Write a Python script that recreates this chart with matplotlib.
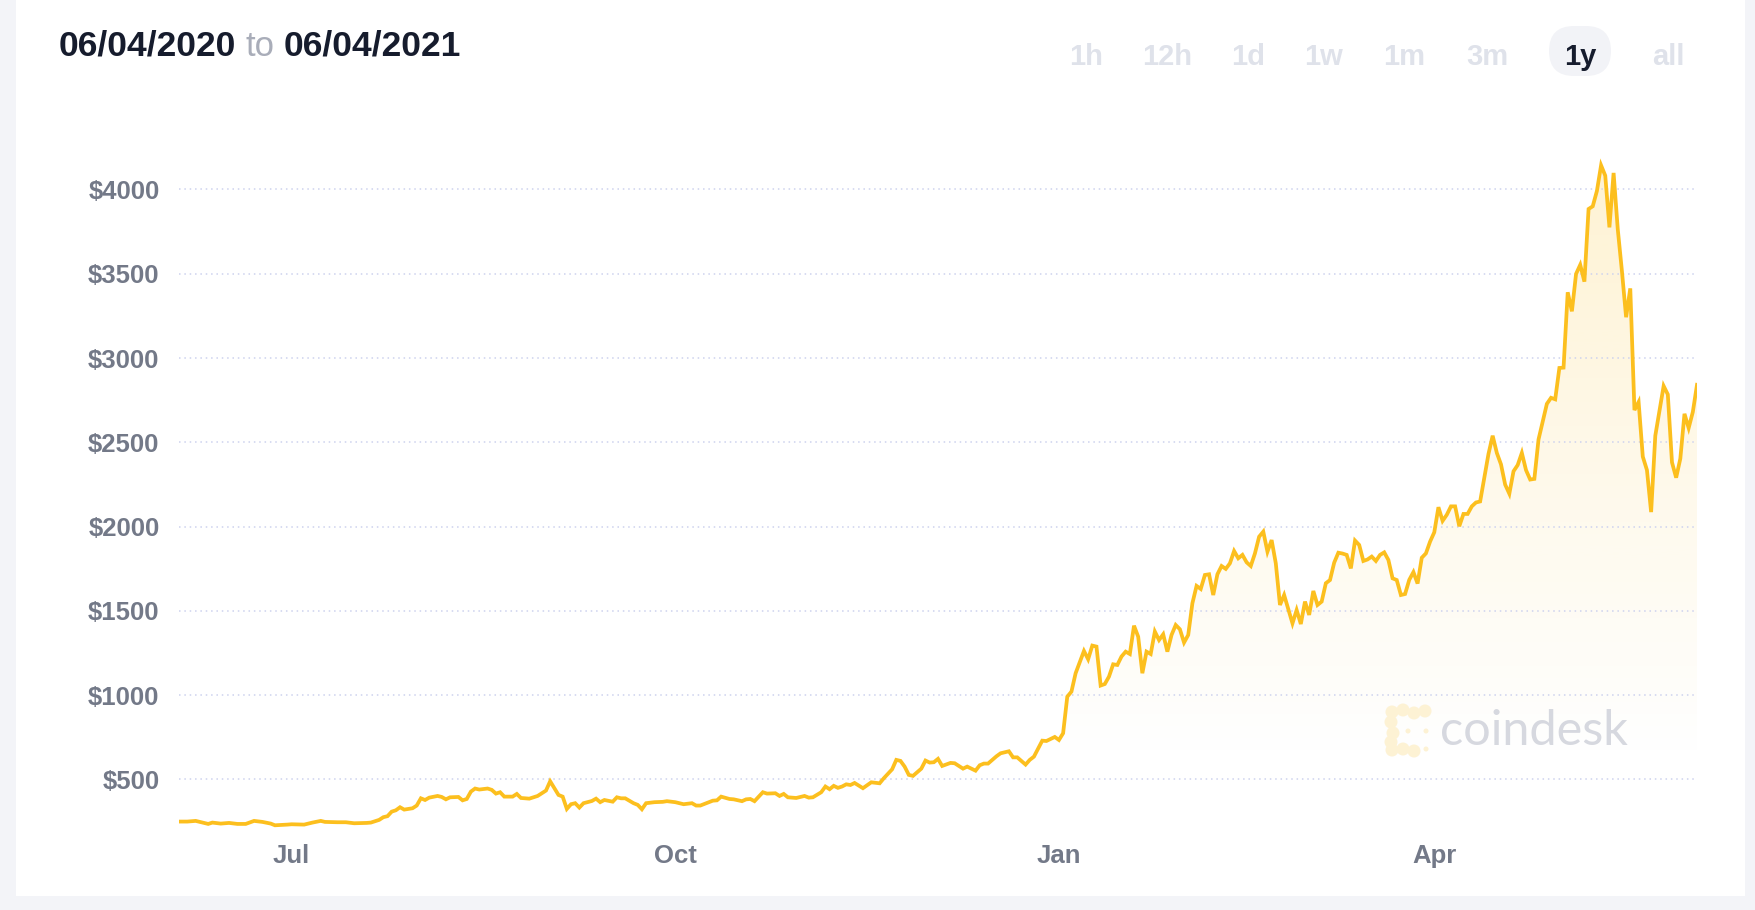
import matplotlib
matplotlib.use('Agg')
import matplotlib.pyplot as plt
import matplotlib.dates as mdates
from matplotlib.patches import Rectangle, FancyBboxPatch, Circle
from matplotlib.transforms import IdentityTransform
from matplotlib.ticker import FuncFormatter
import numpy as np
import pandas as pd

# ETH price (days after the start date, USD)
start_date = '2020-06-04'
day_offset = [
    0, 2, 4, 7, 8, 10, 12, 14, 16, 18, 20, 22, 23, 26, 27, 30, 31, 32, 34, 35,
    38, 40, 42, 45, 46, 48, 49, 50, 51, 52, 53, 54, 56, 57, 58, 59, 60, 62, 63, 64,
    65, 67, 68, 69, 70, 71, 72, 74,
    75, 76, 77, 78, 80, 81, 82, 84, 86, 88, 89, 91, 92, 93, 94, 95, 96, 97, 99, 100,
    101, 102, 104, 105, 106, 107, 109, 110, 111, 112, 114, 116, 117, 119, 121, 123, 124, 125, 128, 129,
    130, 132, 133, 135, 136, 137, 138, 140, 141, 143, 144, 145, 146, 148, 150, 151, 152, 154,
    155, 156, 157, 158, 159, 160, 161, 162, 164, 166, 168, 169, 171, 172, 173, 174, 175, 176, 178, 179,
    180, 181, 182, 183, 185, 186, 188, 189, 191, 192, 193, 194, 196, 197, 199, 200, 201, 203, 204, 205,
    207, 208, 210, 211, 212, 213, 214, 215, 217, 218, 219, 220, 221, 222,
    223, 224, 225, 226, 227, 228, 229, 230, 231, 232, 233, 234, 235, 236, 237, 238, 239, 240, 241, 242,
    243, 244, 245, 246, 247, 248, 249, 250, 251, 252, 253, 254, 255, 256, 257, 258, 259, 260, 261, 262,
    263, 264, 265, 266, 267, 268, 269, 270, 271, 272, 273, 274, 275, 276, 277, 278, 279, 280, 281, 282,
    283, 284, 285, 286, 287, 288, 289, 290, 291, 292, 293,
    294, 295, 296, 297, 298, 299, 300, 301, 302, 303, 304, 305, 306, 307, 308, 309, 310, 311, 312, 313,
    314, 315, 316, 317, 318, 319, 320, 321, 322, 323, 324, 325, 326, 327, 328, 329, 330, 331, 332, 333,
    334, 335, 336, 337, 338, 339, 340, 341, 342, 343, 344, 345, 346, 347, 348, 349, 350, 351, 352, 353,
    354, 355, 356, 357, 358, 359, 360, 361, 362, 363, 364,
]
price_usd = [
    250, 250, 254, 236, 244, 238, 242, 236, 236, 254, 248, 238, 228, 232, 234, 232, 238, 244, 254, 248,
    246, 246, 240, 242, 244, 260, 276, 282, 309, 317, 335, 321, 329, 345, 388, 378, 392, 402, 396, 382,
    394, 396, 376, 384, 428, 446, 440, 446,
    438, 416, 424, 398, 398, 414, 390, 386, 402, 434, 489, 408, 398, 325, 353, 359, 333, 359, 372, 386,
    365, 378, 368, 394, 388, 388, 359, 349, 323, 359, 365, 367, 371, 365, 353, 359, 345, 345, 374, 376,
    398, 384, 382, 371, 382, 384, 371, 424, 416, 418, 402, 414, 394, 390, 402, 392, 394, 424,
    458, 442, 462, 450, 458, 471, 467, 479, 448, 483, 477, 507, 560, 616, 610, 576, 527, 521, 564, 612,
    600, 602, 622, 580, 598, 596, 564, 576, 552, 584, 594, 594, 637, 655, 667, 631, 631, 588, 616, 635,
    730, 728, 752, 734, 774, 991, 1021, 1130, 1262, 1213, 1294, 1288, 1057, 1066,
    1110, 1183, 1179, 1229, 1258, 1244, 1412, 1347, 1130, 1258, 1244, 1377, 1327, 1361, 1258, 1357, 1416, 1391, 1312, 1357,
    1545, 1648, 1630, 1713, 1717, 1594, 1717, 1766, 1749, 1782, 1855, 1812, 1832, 1788, 1766, 1841, 1940, 1970, 1851, 1920,
    1782, 1535, 1594, 1511, 1426, 1505, 1422, 1555, 1476, 1618, 1535, 1555, 1664, 1683, 1786, 1845, 1840, 1832, 1752, 1917,
    1891, 1796, 1805, 1822, 1796, 1832, 1847, 1802, 1693, 1683, 1594,
    1600, 1684, 1730, 1662, 1815, 1841, 1911, 1966, 2115, 2034, 2070, 2120, 2120, 2002, 2075, 2075, 2120, 2143, 2149, 2290,
    2431, 2539, 2437, 2369, 2249, 2195, 2328, 2365, 2437, 2335, 2279, 2283, 2517, 2623, 2728, 2764, 2755, 2941, 2943, 3390,
    3277, 3499, 3553, 3453, 3884, 3900, 3991, 4143, 4082, 3775, 4098, 3764, 3515, 3242, 3413, 2691, 2739, 2415, 2335, 2086,
    2539, 2687, 2834, 2784, 2381, 2290, 2403, 2669, 2585, 2680, 2841,
]
y_ticks = [500, 1000, 1500, 2000, 2500, 3000, 3500, 4000]
range_buttons = ['1h', '12h', '1d', '1w', '1m', '3m', '1y', 'all']
active_button = '1y'
date_from, date_to = '06/04/2020', '06/04/2021'

W, H = 1756, 910
LINE = '#fcbf1e'
TICK_GRAY = '#737988'
DARK = '#161c2d'
FONT = ['Liberation Sans', 'DejaVu Sans']

dates = pd.Timestamp(start_date) + pd.to_timedelta(day_offset, unit='D')
x = mdates.date2num(dates)
y = np.array(price_usd, dtype=float)

fig = plt.figure(figsize=(W / 100, H / 100), dpi=100, facecolor='#f3f4f8')
# white card
fig.add_artist(Rectangle((16 / W, 14 / H), (1745 - 16) / W, 1 - 14 / H,
                         transform=fig.transFigure, facecolor='white',
                         edgecolor='none', zorder=0))

ax = fig.add_axes([179 / W, 1 - 830 / H, (1697 - 179) / W, (830 - 150) / H])
ax.set_facecolor('none')
y_lo, y_hi = 200, 4234

# gradient fill under the line
poly = ax.fill_between(x, y, y_lo - 50, facecolor='none', edgecolor='none')
vals = np.linspace(y_lo, y_hi, 300)
grad = np.zeros((300, 1, 4))
grad[..., :3] = matplotlib.colors.to_rgb(LINE)
grad[:, 0, 3] = np.clip((vals - 600) * 5.5e-5, 0, None)
im = ax.imshow(grad, extent=[x[0], x[-1], y_lo, y_hi], origin='lower',
               aspect='auto', zorder=1, interpolation='bilinear')
im.set_clip_path(poly.get_paths()[0], transform=ax.transData)

ax.plot(x, y, color=LINE, lw=2.7, zorder=3, solid_joinstyle='miter')

ax.set_xlim(x[0], x[-1])
ax.set_ylim(y_lo, y_hi)
ax.set_yticks(y_ticks)
ax.yaxis.set_major_formatter(FuncFormatter(lambda v, p: f'${int(v)}'))
ax.xaxis.set_major_locator(mdates.MonthLocator(bymonth=[1, 4, 7, 10]))
ax.xaxis.set_major_formatter(mdates.DateFormatter('%b'))
ax.yaxis.grid(True, color='#cdd2ee', linestyle=(0, (1, 2.5)), lw=1.1, zorder=0)
ax.xaxis.grid(False)
ax.tick_params(axis='y', length=0, pad=14)
ax.tick_params(axis='x', length=0, pad=10)
for lab in ax.get_xticklabels() + ax.get_yticklabels():
    lab.set_fontfamily(FONT)
    lab.set_fontsize(18.5)
    lab.set_fontweight('bold')
    lab.set_color(TICK_GRAY)
for s in ax.spines.values():
    s.set_visible(False)

# header: date range
base = 1 - 56 / H
fig.text(59 / W, base, date_from, fontsize=25.5, fontweight='bold', family=FONT,
         color=DARK, va='baseline')
fig.text(246 / W, base, 'to', fontsize=25, family=FONT, color='#a9adb9', va='baseline')
fig.text(284 / W, base, date_to, fontsize=25.5, fontweight='bold', family=FONT,
         color=DARK, va='baseline')

# range buttons
btn_x = [1086, 1167, 1248, 1324, 1404, 1487, 1580, 1668]
fig.add_artist(FancyBboxPatch((1549, H - 76), 62, 50,
                              boxstyle='round,pad=0,rounding_size=25',
                              transform=IdentityTransform(),
                              facecolor='#f2f3f7', edgecolor='none', zorder=1))
for bx, lab in zip(btn_x, range_buttons):
    fig.text(bx / W, 1 - 65 / H, lab, fontsize=21, fontweight='bold', family=FONT,
             color=DARK if lab == active_button else '#dfe2ea',
             ha='center', va='baseline', zorder=2)

# coindesk watermark
logo = '#fdf2d4'
blobs = [(1392, 712), (1403, 710), (1414, 713), (1425, 711),
         (1391, 722), (1393, 733), (1391, 742),
         (1392, 750), (1403, 749), (1414, 751)]
for cx, cy in blobs:
    fig.add_artist(Circle((cx, H - cy), 6.5, transform=IdentityTransform(),
                          facecolor=logo, edgecolor='none', zorder=1))
for cx, cy in [(1408, 731), (1426, 731), (1426, 749)]:
    fig.add_artist(Circle((cx, H - cy), 2.5, transform=IdentityTransform(),
                          facecolor=logo, edgecolor='none', zorder=1))
fig.text(1440 / W, 1 - 745 / H, 'coindesk', fontsize=35, family=['Lato', 'DejaVu Sans'],
         color='#d6d8df', va='baseline', zorder=1)

fig.savefig('out.png', dpi=100, facecolor=fig.get_facecolor())
